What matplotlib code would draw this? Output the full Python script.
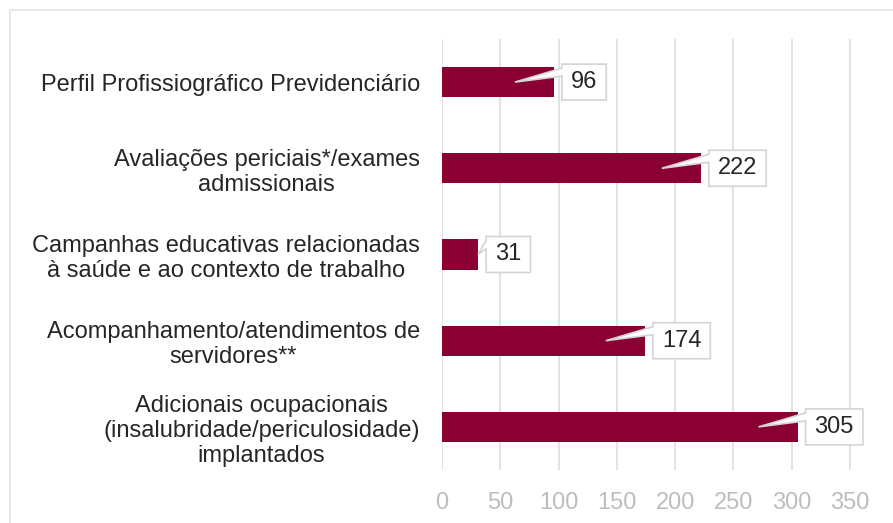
import matplotlib

matplotlib.use("Agg")
import matplotlib.pyplot as plt
import matplotlib.transforms as mtransforms
from matplotlib.patches import Polygon, Rectangle

categories = [
    "Perfil Profissiográfico Previdenciário",
    "Avaliações periciais*/exames\nadmissionais",
    "Campanhas educativas relacionadas\nà saúde e ao contexto de trabalho",
    "Acompanhamento/atendimentos de\nservidores**",
    "Adicionais ocupacionais\n(insalubridade/periculosidade)\nimplantados",
]
values = [96, 222, 31, 174, 305]
xticks = [0, 50, 100, 150, 200, 250, 300, 350]

BAR_COLOR = "#8B0033"
GRID_COLOR = "#e3e3e3"
TICK_COLOR = "#bdbdbd"
TEXT_COLOR = "#262626"
FS = 17

plt.rcParams["font.family"] = ["Liberation Sans", "DejaVu Sans"]

W, H = 893, 523
fig = plt.figure(figsize=(W / 100, H / 100), dpi=100)
# light frame around the chart area
fig.add_artist(Rectangle((10 / W, -0.1), 1.2, (H - 10) / H + 0.1,
                         transform=fig.transFigure, fill=False,
                         edgecolor="#e8e8e8", linewidth=1.5))

ax = fig.add_axes([442 / W, 53 / H, 425.5 / W, 431 / H])
ypos = list(range(len(categories)))
ax.barh(ypos, values, height=0.35, color=BAR_COLOR, zorder=2)
ax.set_xlim(0, 365)
ax.set_ylim(len(categories) - 0.5, -0.5)
ax.set_xticks(xticks)
ax.set_xticklabels([str(t) for t in xticks])
ax.set_yticks(ypos)
ax.set_yticklabels(categories, multialignment="center", linespacing=1.17)
ax.tick_params(axis="x", length=0, pad=16, labelsize=FS, labelcolor=TICK_COLOR)
ax.tick_params(axis="y", length=0, pad=16, labelsize=FS, labelcolor=TEXT_COLOR)
ax.grid(axis="x", color=GRID_COLOR, linewidth=1.5, zorder=0)
ax.grid(axis="y", visible=False)
for s in ax.spines.values():
    s.set_visible(False)

# callout labels: box with a wedge pointing into the bar
renderer = fig.canvas.get_renderer()
px_per_unit = 425.5 / 365
for i, v in enumerate(values):
    # vertices in inches, relative to the bar end
    trans = fig.dpi_scale_trans + mtransforms.ScaledTranslation(v, i, ax.transData)
    t = ax.text(0, 0, str(v), fontsize=FS, color=TEXT_COLOR,
                ha="center", va="center", zorder=5)
    tw = t.get_window_extent(renderer).width
    left = 8
    right = left + tw + 18
    t.set_transform(trans)
    t.set_position(((left + right) / 2 / 100, 0))
    # wedge reaches ~39px into the bar, less for very short bars
    reach = min(39, max(0, v * px_per_unit - 36))
    tip_y = 0 if reach > 0 else 1
    px = [
        (left, 18), (right, 18), (right, -18), (left, -18),
        (left, 6), (-reach, tip_y), (left, 14),
    ]
    poly = Polygon([(x / 100, y / 100) for x, y in px], closed=True,
                   facecolor="white", edgecolor="#d4d4d4", linewidth=1.2,
                   transform=trans, zorder=4, clip_on=False)
    ax.add_patch(poly)

fig.savefig("out.png", dpi=100)
